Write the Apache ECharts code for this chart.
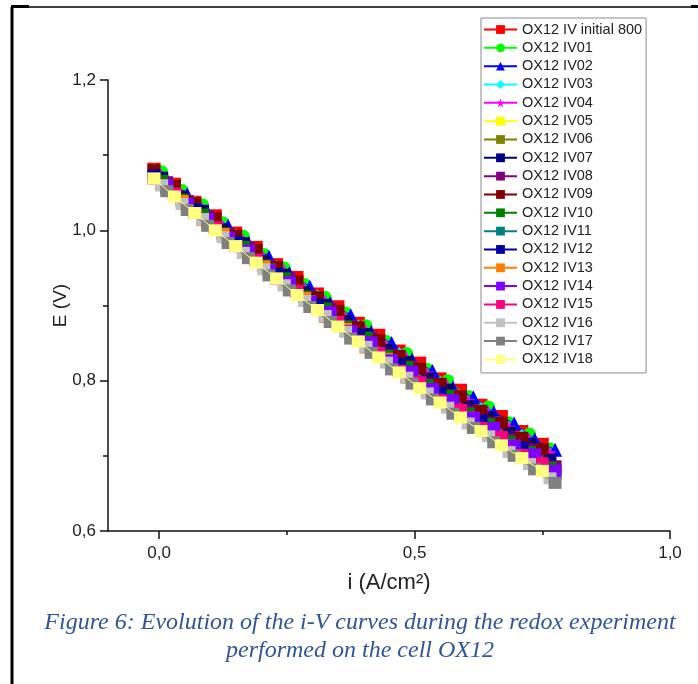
<!DOCTYPE html>
<html><head><meta charset="utf-8">
<script src="https://cdn.jsdelivr.net/npm/echarts@6/dist/echarts.min.js"></script>
<style>html,body{margin:0;padding:0;background:#fff}#c{width:698px;height:684px}</style>
</head><body><div id="c"></div>
<script>
// Current density grids (A/cm²)
const iA = [-0.01,0.03,0.07,0.11,0.15,0.19,0.23,0.27,0.31,0.35,0.39,0.43,0.47,0.51,0.55,0.59,0.63,0.67,0.71,0.75];
const iB = [0.005,0.045,0.085,0.125,0.165,0.205,0.245,0.285,0.325,0.365,0.405,0.445,0.485,0.525,0.565,0.605,0.645,0.685,0.725,0.765];
const iC = [0.015,0.055,0.095,0.135,0.175,0.215,0.255,0.295,0.335,0.375,0.415,0.455,0.495,0.535,0.575,0.615,0.655,0.695,0.735,0.775];

const seriesNames = ['OX12 IV initial 800','OX12 IV01','OX12 IV02','OX12 IV03','OX12 IV04','OX12 IV05','OX12 IV06','OX12 IV07','OX12 IV08','OX12 IV09','OX12 IV10','OX12 IV11','OX12 IV12','OX12 IV13','OX12 IV14','OX12 IV15','OX12 IV16','OX12 IV17','OX12 IV18'];
const seriesGrid = ['A','B','C','A','B','C','A','B','C','A','B','C','A','B','C','A','B','C','A'];

// Voltages E (V)
const E_initial = [1.082,1.062,1.038,1.020,0.997,0.978,0.955,0.938,0.916,0.899,0.877,0.861,0.840,0.824,0.803,0.788,0.768,0.753,0.733,0.716];
const E_IV01 = [1.078,1.053,1.034,1.010,0.992,0.968,0.950,0.928,0.911,0.890,0.873,0.852,0.836,0.815,0.800,0.779,0.765,0.744,0.729,0.709];
const E_IV02 = [1.068,1.048,1.024,1.006,0.983,0.965,0.943,0.925,0.903,0.887,0.865,0.850,0.828,0.813,0.791,0.778,0.758,0.743,0.722,0.708];
const E_IV03 = [1.080,1.055,1.036,1.011,0.993,0.970,0.951,0.929,0.912,0.890,0.872,0.851,0.835,0.813,0.797,0.777,0.762,0.742,0.726,0.708];
const E_IV04 = [1.073,1.048,1.029,1.005,0.987,0.963,0.946,0.922,0.906,0.884,0.867,0.847,0.830,0.810,0.793,0.773,0.758,0.738,0.722,0.704];
const E_IV05 = [1.062,1.036,1.018,0.993,0.976,0.951,0.935,0.910,0.895,0.871,0.856,0.833,0.818,0.795,0.780,0.758,0.744,0.722,0.708,0.686];
const E_IV06 = [1.071,1.051,1.026,1.007,0.983,0.965,0.941,0.923,0.900,0.883,0.860,0.843,0.821,0.805,0.782,0.767,0.746,0.731,0.710,0.694];
const E_IV07 = [1.070,1.045,1.026,1.001,0.983,0.959,0.941,0.918,0.901,0.879,0.862,0.841,0.825,0.803,0.788,0.766,0.752,0.731,0.716,0.695];
const E_IV08 = [1.064,1.039,1.019,0.996,0.977,0.953,0.936,0.912,0.896,0.873,0.857,0.834,0.819,0.796,0.780,0.759,0.744,0.722,0.708,0.686];
const E_IV09 = [1.080,1.059,1.036,1.016,0.993,0.974,0.951,0.932,0.911,0.893,0.871,0.854,0.833,0.816,0.796,0.779,0.760,0.744,0.724,0.709];
const E_IV10 = [1.066,1.041,1.021,0.996,0.978,0.953,0.936,0.912,0.896,0.872,0.857,0.833,0.818,0.794,0.780,0.756,0.742,0.719,0.705,0.684];
const E_IV11 = [1.056,1.034,1.011,0.990,0.967,0.948,0.925,0.906,0.884,0.866,0.844,0.827,0.805,0.788,0.766,0.750,0.729,0.713,0.693,0.676];
const E_IV12 = [1.073,1.048,1.028,1.003,0.985,0.960,0.942,0.918,0.901,0.877,0.861,0.837,0.822,0.798,0.784,0.761,0.747,0.724,0.711,0.689];
const E_IV13 = [1.060,1.039,1.014,0.995,0.970,0.952,0.927,0.910,0.885,0.869,0.844,0.829,0.804,0.789,0.765,0.751,0.727,0.714,0.690,0.678];
const E_IV14 = [1.060,1.035,1.015,0.990,0.973,0.947,0.931,0.905,0.891,0.866,0.851,0.827,0.812,0.789,0.774,0.751,0.737,0.714,0.702,0.680];
const E_IV15 = [1.069,1.049,1.023,1.004,0.979,0.961,0.936,0.919,0.894,0.878,0.853,0.837,0.813,0.798,0.774,0.761,0.737,0.725,0.701,0.690];
const E_IV16 = [1.060,1.035,1.015,0.991,0.970,0.948,0.927,0.906,0.886,0.865,0.845,0.824,0.804,0.783,0.764,0.743,0.726,0.705,0.689,0.670];
const E_IV17 = [1.052,1.027,1.006,0.983,0.963,0.940,0.920,0.898,0.878,0.856,0.837,0.815,0.796,0.775,0.756,0.737,0.718,0.700,0.682,0.664];
const E_IV18 = [1.069,1.045,1.023,1.000,0.979,0.957,0.936,0.914,0.894,0.872,0.852,0.831,0.811,0.790,0.771,0.751,0.733,0.714,0.697,0.680];
const seriesValues = [E_initial,E_IV01,E_IV02,E_IV03,E_IV04,E_IV05,E_IV06,E_IV07,E_IV08,E_IV09,E_IV10,E_IV11,E_IV12,E_IV13,E_IV14,E_IV15,E_IV16,E_IV17,E_IV18];

const xMajorTicks = [0, 0.5, 1.0];
const xMinorTicks = [0.25, 0.75];

const colors = ['#ff0000','#00ff00','#0000ff','#00ffff','#ff00ff','#ffff00','#808000','#000080','#800080','#800000','#008000','#008080','#0000a0','#ff8000','#8000ff','#ff0080','#c0c0c0','#808080','#ffff80'];
const STAR = 'path://M50,0 L61,35 L98,35 L68,57 L79,91 L50,70 L21,91 L32,57 L2,35 L39,35 Z';
const symbols = ['rect','circle','triangle','diamond',STAR,'rect','rect','rect','rect','rect','rect','rect','rect','rect','rect','rect','rect','rect','rect'];

const grids = {A: iA, B: iB, C: iC};

const series = seriesNames.map((name, k) => {
  const xs = grids[seriesGrid[k]];
  const sym = symbols[k];
  let size = [13, 12];
  if (sym === 'circle') size = 13;
  if (sym === 'triangle') size = 14;
  if (sym === 'diamond') size = 14;
  if (sym === STAR) size = 14;
  return {
    name, type: 'line',
    data: seriesValues[k].map((e, j) => [xs[j], e]),
    symbol: sym, symbolSize: size,
    itemStyle: {color: colors[k], opacity: 1},
    lineStyle: {color: colors[k], width: 1},
    showSymbol: true, animation: false, z: 2 + k
  };
});

// overlay axis for minor x ticks
series.push({type: 'line', xAxisIndex: 1, data: [], silent: true});

const chart = echarts.init(document.getElementById('c'), null, {renderer: 'canvas'});
const axisFont = 'Liberation Sans, Arial, sans-serif';
chart.setOption({
  backgroundColor: '#ffffff',
  animation: false,
  grid: {left: 108, right: 28, top: 80, bottom: 153},
  legend: {
    orient: 'vertical', left: 481, top: 18,
    padding: [4, 4, 6, 2],
    itemWidth: 33, itemHeight: 11, itemGap: 3.33,
    borderColor: '#8a8a8a', borderWidth: 1, backgroundColor: '#ffffff',
    textStyle: {fontFamily: axisFont, fontSize: 14.5, color: '#222'},
    data: seriesNames, z: 10
  },
  xAxis: [{
    type: 'value', min: -0.1, max: 1.0,
    axisLine: {show: true, onZero: false, lineStyle: {color: '#111', width: 1.5}},
    axisTick: {show: true, customValues: xMajorTicks, length: 8, lineStyle: {color: '#111', width: 1.5}},
    axisLabel: {customValues: xMajorTicks, margin: 14, fontFamily: axisFont, fontSize: 17, color: '#222', formatter: v => v.toFixed(1).replace('.', ',')},
    splitLine: {show: false},
    name: 'i (A/cm²)', nameLocation: 'middle', nameGap: 41,
    nameTextStyle: {fontFamily: axisFont, fontSize: 22, color: '#222'}
  }, {
    type: 'value', min: -0.1, max: 1.0,
    axisLine: {show: false},
    axisTick: {show: true, customValues: xMinorTicks, length: 4, lineStyle: {color: '#111', width: 1.5}},
    axisLabel: {show: false}, splitLine: {show: false}, position: 'bottom'
  }],
  yAxis: {
    type: 'value', min: 0.6, max: 1.2, interval: 0.2,
    axisLine: {show: true, onZero: false, lineStyle: {color: '#111', width: 1.5}},
    axisTick: {show: true, length: 8, lineStyle: {color: '#111', width: 1.5}},
    minorTick: {show: true, splitNumber: 2, length: 5, lineStyle: {color: '#111', width: 1.5}},
    axisLabel: {margin: 12, fontFamily: axisFont, fontSize: 17, color: '#222', formatter: v => v.toFixed(1).replace('.', ',')},
    splitLine: {show: false},
    name: 'E (V)', nameLocation: 'middle', nameGap: 38, nameRotate: 90, nameMoveOverlap: false,
    nameTextStyle: {fontFamily: axisFont, fontSize: 19, color: '#222'}
  },
  series,
  graphic: [
    {type: 'line', shape: {x1: 12, y1: 7, x2: 12, y2: 684}, style: {stroke: '#000', lineWidth: 3}, silent: true},
    {type: 'line', shape: {x1: 12, y1: 7, x2: 692, y2: 7}, style: {stroke: '#000', lineWidth: 1.5}, silent: true},
    {type: 'rect', shape: {x: 11, y: 5, width: 18, height: 3}, style: {fill: '#000'}, silent: true},
    {type: 'rect', shape: {x: 691, y: 5, width: 7, height: 3}, style: {fill: '#000'}, silent: true},
    {type: 'text', x: 360, y: 623, silent: true, style: {
      text: 'Figure 6: Evolution of the i-V curves during the redox experiment',
      fontFamily: 'Liberation Serif, Times New Roman, serif', fontStyle: 'italic', fontSize: 24,
      fill: '#2f5597', align: 'center', verticalAlign: 'middle'}},
    {type: 'text', x: 360, y: 651, silent: true, style: {
      text: 'performed on the cell OX12',
      fontFamily: 'Liberation Serif, Times New Roman, serif', fontStyle: 'italic', fontSize: 24,
      fill: '#2f5597', align: 'center', verticalAlign: 'middle'}}
  ]
});
</script></body></html>
